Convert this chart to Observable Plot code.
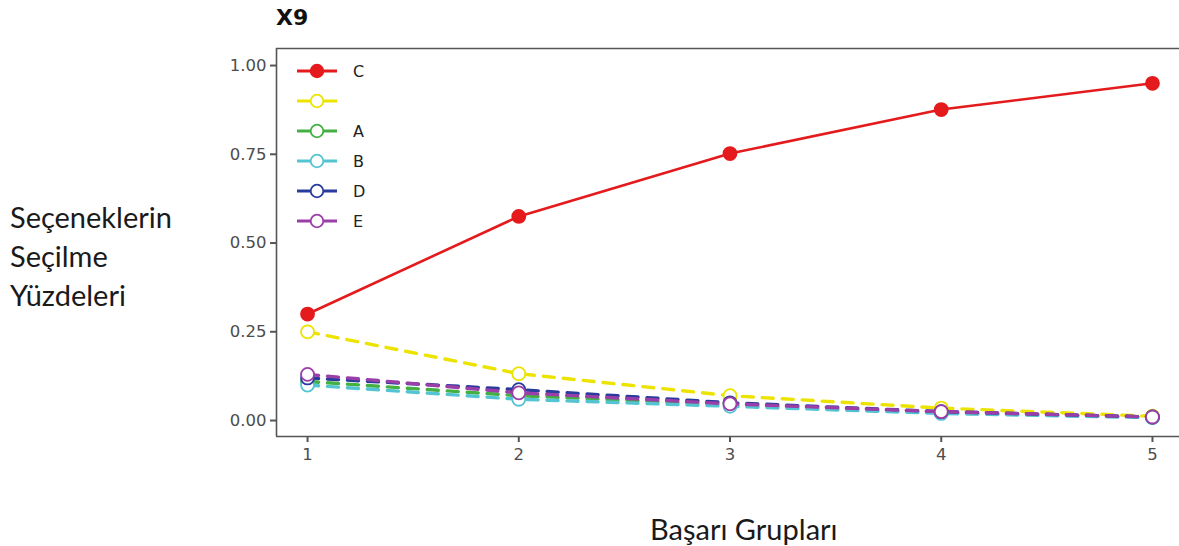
<!DOCTYPE html>
<html>
<head>
<meta charset="utf-8">
<script src="https://cdn.jsdelivr.net/npm/d3@7"></script>
<script src="https://cdn.jsdelivr.net/npm/@observablehq/plot@0.6"></script>
<style>
  html, body { margin: 0; padding: 0; background: #fff; overflow: hidden; }
  #wrap { position: relative; width: 1179px; height: 546px; }
  #chart { position: absolute; left: 0; top: 0; }
  .lbl { position: absolute; white-space: nowrap; color: #1a1a1a; }
  #title { left: 276px; top: 6px; font-family: "DejaVu Sans"; font-weight: bold; font-size: 22px; line-height: 24px; color: #111; }
  #ylab { left: 10px; top: 197px; font-family: Lato; font-size: 29px; line-height: 39px; white-space: normal; }
  #xlab { left: 650px; top: 514px; font-family: Lato; font-size: 29px; line-height: 30px; }
  #legend { position: absolute; left: 296px; top: 56px; font-family: "DejaVu Sans"; font-size: 16px; color: #222; }
  #legend .row { height: 30px; display: flex; align-items: center; }
  #legend svg { display: block; margin-right: 15px; }
  #chart svg text { font-size: 16.5px; font-family: "DejaVu Sans"; fill: #4d4d4d; }
  #chart svg g[aria-label="y-axis tick"] path, #chart svg g[aria-label="x-axis tick"] path { stroke-width: 2; stroke: #555; }
</style>
</head>
<body>
<div id="wrap">
  <div id="chart"></div>
  <div id="title" class="lbl">X9</div>
  <div id="ylab" class="lbl">Seçeneklerin<br>Seçilme<br>Yüzdeleri</div>
  <div id="xlab" class="lbl">Başarı Grupları</div>
  <div id="legend"></div>
</div>
<script>
// ---- data ----
const groups = [1, 2, 3, 4, 5];
const seriesNames = ["C", "", "A", "B", "D", "E"];
const valC     = [0.300, 0.575, 0.752, 0.876, 0.950];
const valBlank = [0.250, 0.132, 0.070, 0.035, 0.012];
const valA     = [0.110, 0.070, 0.045, 0.022, 0.010];
const valB     = [0.100, 0.060, 0.040, 0.020, 0.008];
const valD     = [0.120, 0.087, 0.050, 0.025, 0.010];
const valE     = [0.130, 0.078, 0.047, 0.025, 0.010];
const yTicks = [0, 0.25, 0.5, 0.75, 1.0];

// ---- styles ----
const seriesValues = [valC, valBlank, valA, valB, valD, valE];
const seriesColors = ["#e41a1c", "#ece400", "#44b044", "#55c4d2", "#2a3b9e", "#9b3fa8"];

const rows = seriesNames.flatMap((s, i) =>
  groups.map((g, j) => ({series: s, idx: i, group: g, value: seriesValues[i][j]})));

const xDomain = [0.853, 5.128];
const yDomain = [-0.045, 1.048];
const frameColor = "#555";

const lineMarks = seriesNames.map((s, i) =>
  Plot.line(rows.filter(d => d.idx === i), {
    x: "group", y: "value",
    stroke: seriesColors[i],
    strokeWidth: i === 0 ? 2.6 : 3.4,
    strokeDasharray: i === 0 ? null : "11,9"
  }));
const dotMarks = seriesNames.map((s, i) =>
  Plot.dot(rows.filter(d => d.idx === i), {
    x: "group", y: "value", r: 6.5,
    fill: i === 0 ? seriesColors[i] : "white",
    stroke: seriesColors[i],
    strokeWidth: 1.8
  }));

const chart = Plot.plot({
  width: 1179,
  height: 546,
  marginLeft: 276,
  marginRight: 0,
  marginTop: 48,
  marginBottom: 110,
  style: {fontFamily: "DejaVu Sans", fontSize: "16.5px", color: "#4d4d4d", background: "white"},
  x: {domain: xDomain, ticks: groups, tickFormat: d => String(d), tickSize: 6, tickPadding: 6, label: null},
  y: {domain: yDomain, ticks: yTicks, tickFormat: d3.format(".2f"), tickSize: 6, tickPadding: 4, label: null},
  marks: [
    Plot.ruleY([yDomain[1]], {stroke: frameColor, strokeWidth: 1.6}),
    Plot.ruleY([yDomain[0]], {stroke: frameColor, strokeWidth: 1.6}),
    Plot.ruleX([xDomain[0]], {stroke: frameColor, strokeWidth: 1.6}),
    ...lineMarks,
    ...dotMarks
  ]
});
document.getElementById("chart").appendChild(chart);

// ---- legend ----
const legend = d3.select("#legend");
seriesNames.forEach((s, i) => {
  const row = legend.append("div").attr("class", "row");
  const svg = row.append("svg").attr("width", 42).attr("height", 30);
  svg.append("line").attr("x1", 1).attr("x2", 41).attr("y1", 15).attr("y2", 15)
    .attr("stroke", seriesColors[i]).attr("stroke-width", 3);
  svg.append("circle").attr("cx", 21).attr("cy", 15).attr("r", 6.3)
    .attr("fill", i === 0 ? seriesColors[i] : "white")
    .attr("stroke", seriesColors[i]).attr("stroke-width", 1.8);
  row.append("span").text(s);
});
</script>
</body>
</html>
